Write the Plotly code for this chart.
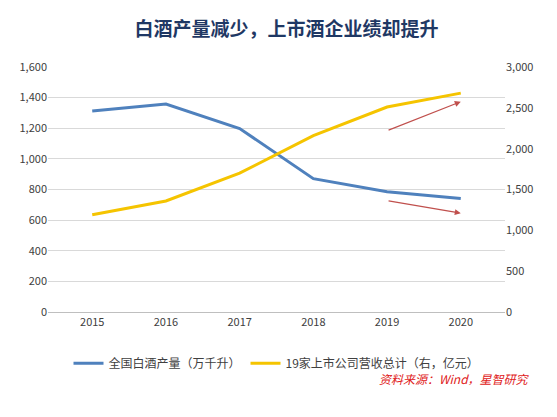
import plotly.graph_objects as go

years = [2015, 2016, 2017, 2018, 2019, 2020]
production = [1313, 1358, 1198, 871, 786, 741]
revenue = [1190, 1360, 1700, 2160, 2510, 2680]

fig = go.Figure()
fig.add_trace(go.Scatter(x=years, y=production, mode='lines', name='全国白酒产量（万千升）',
                         line=dict(color='#4F81BD', width=3)))
fig.add_trace(go.Scatter(x=years, y=revenue, mode='lines', name='19家上市公司营收总计（右，亿元）',
                         line=dict(color='#F5C400', width=3), yaxis='y2'))

# red arrows
for (x0, y0, x1, y1) in [(2019.0, 2220, 2020.0, 2575), (2019.0, 1365, 2020.0, 1210)]:
    fig.add_annotation(x=x1, y=y1, ax=x0, ay=y0, xref='x', yref='y2', axref='x', ayref='y2',
                       showarrow=True, arrowhead=2, arrowsize=1, arrowwidth=1.2,
                       arrowcolor='#C0504D', text='')

fig.update_layout(
    width=557, height=417,
    paper_bgcolor='white', plot_bgcolor='white',
    margin=dict(l=40, r=60, t=59, b=113),
    font=dict(family='Noto Sans CJK SC', size=12, color='#404040'),
    title=dict(text='<b>白酒产量减少，上市酒企业绩却提升</b>', x=0.5, y=0.965, xanchor='center',
               font=dict(size=19, color='#1F3864')),
    xaxis=dict(range=[2014.4, 2020.6], tickmode='array', tickvals=years, showgrid=False,
               showline=True, linecolor='#BFBFBF', ticks='', tickfont=dict(size=11)),
    yaxis=dict(range=[0, 1600], dtick=200, tickformat=',', showgrid=True, gridcolor='#D9D9D9',
               zeroline=False, tickfont=dict(size=11)),
    yaxis2=dict(range=[0, 3000], dtick=500, tickformat=',', overlaying='y', side='right',
                showgrid=False, zeroline=False, tickfont=dict(size=11)),
    legend=dict(orientation='h', x=0.5, xanchor='center', y=-0.15, yanchor='top',
                font=dict(size=12, color='#404040')),
    showlegend=True,
)
fig.add_annotation(text='<i>资料来源：Wind，星智研究</i>', xref='paper', yref='paper', x=1.06, y=-0.27,
                   xanchor='right', yanchor='middle', showarrow=False,
                   font=dict(size=12, color='#E02020', family='Noto Sans CJK SC'))

fig.write_html("out.html")
